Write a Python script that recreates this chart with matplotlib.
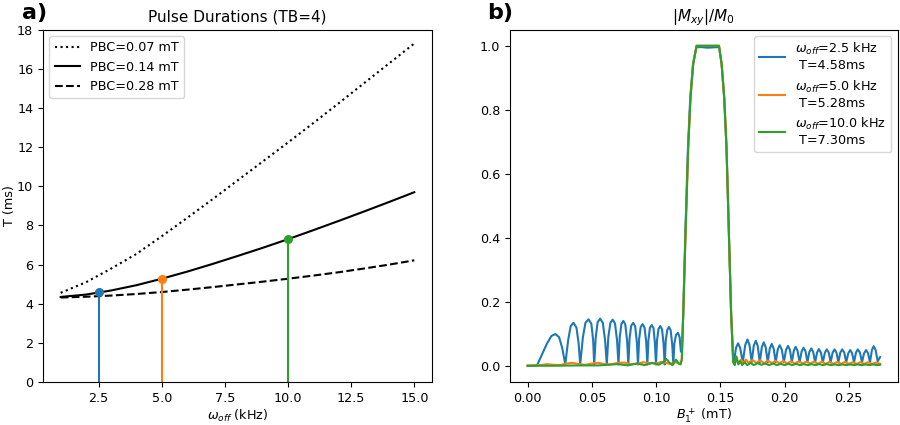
import matplotlib
matplotlib.use("Agg")
import matplotlib.pyplot as plt

# ---------------- panel a data ----------------
w_off = [1, 2, 3, 4, 5, 6, 7, 8, 9, 10, 11, 12, 13, 14, 15]
T_pbc007 = [4.56, 5.1, 5.8, 6.55, 7.45, 8.38, 9.33, 10.3, 11.27, 12.24, 13.23, 14.24, 15.26, 16.28, 17.3]
T_pbc014 = [4.35, 4.47, 4.68, 4.95, 5.28, 5.64, 6.03, 6.44, 6.86, 7.30, 7.76, 8.23, 8.71, 9.20, 9.70]
T_pbc028 = [4.32, 4.36, 4.42, 4.5, 4.6, 4.72, 4.85, 4.99, 5.13, 5.28, 5.44, 5.61, 5.8, 6.0, 6.22]
pbc_labels = ["PBC=0.07 mT", "PBC=0.14 mT", "PBC=0.28 mT"]
sel_w = [2.5, 5.0, 10.0]
sel_T = [4.58, 5.28, 7.30]

# ---------------- panel b data ----------------
b1_blue = [0.000, 0.0073,
           0.011, 0.015, 0.0185, 0.0215, 0.0245, 0.027, 0.0293,
           0.0315, 0.0335, 0.0357, 0.038, 0.0397, 0.0409,
           0.0430, 0.0450, 0.0474, 0.0496, 0.0510, 0.0518,
           0.0530, 0.0545, 0.0564, 0.0585, 0.0603, 0.0616,
           0.0628, 0.0644, 0.0662, 0.0680, 0.0696, 0.0707,
           0.0717, 0.0730, 0.0745, 0.0760, 0.0774, 0.0784,
           0.0793, 0.0806, 0.0822, 0.0837, 0.0850, 0.0859,
           0.0868, 0.0880, 0.0895, 0.0910, 0.0923, 0.0932,
           0.0940, 0.0952, 0.0966, 0.0980, 0.0991, 0.0999,
           0.1007, 0.1019, 0.1032, 0.1046, 0.1058, 0.1067,
           0.1075, 0.1087, 0.1100, 0.1113, 0.1125, 0.1134,
           0.1142, 0.1155, 0.1170, 0.1183, 0.1193,
           0.1202, 0.1211, 0.1228, 0.1248, 0.1266, 0.1287, 0.1313,
           0.135, 0.140, 0.145, 0.149,
           0.151, 0.153, 0.1548, 0.1566, 0.1584, 0.1600, 0.1607,
           0.1622, 0.1638, 0.1654, 0.1675,
           0.1694, 0.1711, 0.1727, 0.1744,
           0.1760, 0.1776, 0.1791, 0.1807,
           0.1823, 0.1838, 0.1853, 0.1869,
           0.1885, 0.1900, 0.1915, 0.1931,
           0.1947, 0.1962, 0.1978, 0.1995,
           0.2011, 0.2027, 0.2042, 0.2057,
           0.2072, 0.2086, 0.2101, 0.2117,
           0.2133, 0.2148, 0.2163, 0.2178,
           0.2193, 0.2208, 0.2223, 0.2238,
           0.2253, 0.2267, 0.2283, 0.2298,
           0.2314, 0.2329, 0.2344, 0.2359,
           0.2374, 0.2389, 0.2404, 0.2419,
           0.2434, 0.2449, 0.2465, 0.2480,
           0.2496, 0.2511, 0.2526, 0.2541,
           0.2556, 0.2570, 0.2587, 0.2603,
           0.2619, 0.2635, 0.2650, 0.2665,
           0.2680, 0.2694, 0.2709, 0.2725,
           0.2735, 0.2744]
m_blue = [0.000, 0.002,
          0.035, 0.070, 0.094, 0.100, 0.090, 0.055, 0.005,
          0.080, 0.125, 0.135, 0.120, 0.070, 0.005,
          0.090, 0.135, 0.146, 0.132, 0.080, 0.005,
          0.090, 0.137, 0.148, 0.135, 0.080, 0.005,
          0.090, 0.135, 0.145, 0.133, 0.080, 0.005,
          0.090, 0.132, 0.141, 0.130, 0.080, 0.005,
          0.085, 0.126, 0.135, 0.124, 0.075, 0.005,
          0.085, 0.122, 0.131, 0.120, 0.075, 0.005,
          0.080, 0.120, 0.128, 0.118, 0.070, 0.005,
          0.080, 0.116, 0.125, 0.115, 0.070, 0.005,
          0.080, 0.113, 0.122, 0.112, 0.070, 0.005,
          0.070, 0.097, 0.104, 0.090, 0.045,
          0.060, 0.160, 0.424, 0.683, 0.839, 0.943, 0.995,
          0.996, 0.994, 0.995, 0.996,
          0.943, 0.839, 0.683, 0.424, 0.164, 0.025, 0.015,
          0.057, 0.071, 0.057, 0.012,
          0.066, 0.083, 0.066, 0.012,
          0.063, 0.079, 0.063, 0.012,
          0.059, 0.074, 0.059, 0.012,
          0.055, 0.069, 0.055, 0.012,
          0.052, 0.065, 0.052, 0.012,
          0.050, 0.063, 0.050, 0.012,
          0.048, 0.060, 0.048, 0.012,
          0.046, 0.057, 0.046, 0.012,
          0.044, 0.055, 0.044, 0.012,
          0.042, 0.053, 0.042, 0.012,
          0.042, 0.052, 0.042, 0.012,
          0.042, 0.052, 0.042, 0.012,
          0.042, 0.052, 0.042, 0.012,
          0.040, 0.050, 0.040, 0.012,
          0.042, 0.052, 0.042, 0.012,
          0.040, 0.050, 0.040, 0.012,
          0.050, 0.062, 0.050, 0.015,
          0.022, 0.028]

b1_orange = [0.000, 0.005, 0.010, 0.015, 0.020, 0.025, 0.030, 0.035, 0.040, 0.045,
             0.050, 0.055, 0.060, 0.065, 0.070, 0.075, 0.080, 0.085, 0.090, 0.095,
             0.100, 0.104, 0.108, 0.111, 0.114, 0.117, 0.1190,
             0.1200, 0.1211, 0.1230, 0.1250, 0.1268, 0.1289, 0.1315,
             0.1400, 0.1490,
             0.1510, 0.1530, 0.1548, 0.1566, 0.1584, 0.1600, 0.1610,
             0.1625, 0.1640, 0.1660, 0.1680, 0.1700, 0.1720, 0.1750, 0.1780,
             0.1810, 0.1840, 0.1870, 0.1900, 0.1930, 0.1960, 0.1990, 0.2020,
             0.2050, 0.2080, 0.2110, 0.2140, 0.2170, 0.2200, 0.2230, 0.2260,
             0.2290, 0.2320, 0.2350, 0.2380, 0.2410, 0.2440, 0.2470, 0.2500,
             0.2530, 0.2560, 0.2590, 0.2620, 0.2650, 0.2680, 0.2710, 0.2744]
m_orange = [0.002, 0.002, 0.003, 0.006, 0.004, 0.003, 0.008, 0.010, 0.006, 0.004,
            0.008, 0.010, 0.006, 0.005, 0.010, 0.011, 0.006, 0.007, 0.012, 0.009,
            0.008, 0.013, 0.010, 0.006, 0.012, 0.010, 0.005,
            0.020, 0.160, 0.424, 0.683, 0.839, 0.943, 1.000,
            1.000, 1.000,
            0.943, 0.839, 0.683, 0.424, 0.164, 0.015, 0.005,
            0.022, 0.010, 0.020, 0.010, 0.020, 0.010, 0.019, 0.010,
            0.018, 0.009, 0.017, 0.009, 0.016, 0.009, 0.016, 0.008,
            0.015, 0.008, 0.015, 0.008, 0.014, 0.008, 0.014, 0.007,
            0.014, 0.007, 0.013, 0.007, 0.013, 0.007, 0.013, 0.007,
            0.012, 0.007, 0.012, 0.007, 0.012, 0.007, 0.011, 0.007]

b1_green = [0.000, 0.020, 0.040, 0.055, 0.062, 0.070, 0.078, 0.085, 0.091, 0.097,
            0.102, 0.1055, 0.108, 0.1105, 0.1125, 0.1155, 0.1175, 0.1190,
            0.1200, 0.1211, 0.1230, 0.1250, 0.1268, 0.1289, 0.1315,
            0.1400, 0.1490,
            0.1510, 0.1530, 0.1548, 0.1566, 0.1584, 0.1600, 0.1612,
            0.1626, 0.1640, 0.1655, 0.1670, 0.1690, 0.1710, 0.1735, 0.1760,
            0.1790, 0.1820, 0.1850, 0.1880, 0.1910, 0.1940, 0.1970, 0.2000,
            0.2030, 0.2060, 0.2090, 0.2120, 0.2150, 0.2180, 0.2210, 0.2240,
            0.2270, 0.2300, 0.2330, 0.2360, 0.2390, 0.2420, 0.2450, 0.2480,
            0.2510, 0.2540, 0.2570, 0.2600, 0.2630, 0.2660, 0.2690, 0.2720, 0.2744]
m_green = [0.001, 0.001, 0.002, 0.002, 0.004, 0.006, 0.002, 0.008, 0.003, 0.010,
           0.004, 0.012, 0.022, 0.010, 0.003, 0.020, 0.008, 0.006,
           0.020, 0.160, 0.424, 0.683, 0.839, 0.943, 1.000,
           1.000, 1.000,
           0.943, 0.839, 0.683, 0.424, 0.164, 0.012, 0.003,
           0.030, 0.005, 0.015, 0.003, 0.012, 0.003, 0.010, 0.003,
           0.009, 0.004, 0.008, 0.003, 0.008, 0.003, 0.007, 0.003,
           0.007, 0.003, 0.007, 0.003, 0.006, 0.003, 0.006, 0.003,
           0.006, 0.003, 0.006, 0.003, 0.005, 0.003, 0.005, 0.003,
           0.005, 0.003, 0.005, 0.003, 0.005, 0.003, 0.005, 0.003, 0.004]

legend_b = ["$\\omega_{off}$=2.5 kHz\n T=4.58ms",
            "$\\omega_{off}$=5.0 kHz\n T=5.28ms",
            "$\\omega_{off}$=10.0 kHz\n T=7.30ms"]
colors = ["#1f77b4", "#ff7f0e", "#2ca02c"]

plt.rcParams['font.size'] = 9.2

fig = plt.figure(figsize=(9, 4.25), dpi=100)
ax1 = fig.add_axes([0.0478, 0.101, 0.4322, 0.829])
ax2 = fig.add_axes([0.5667, 0.101, 0.4308, 0.829])

# panel a
ax1.plot(w_off, T_pbc007, 'k:', lw=1.5, label=pbc_labels[0])
ax1.plot(w_off, T_pbc014, 'k-', lw=1.5, label=pbc_labels[1])
ax1.plot(w_off, T_pbc028, 'k--', lw=1.5, label=pbc_labels[2])
for w, t, c in zip(sel_w, sel_T, colors):
    ax1.vlines(w, 0, t, color=c, lw=1.5)
    ax1.plot([w], [t], 'o', color=c, ms=5.5)
ax1.set_ylim(0, 18)
ax1.set_yticks(range(0, 19, 2))
ax1.set_xticks([2.5, 5.0, 7.5, 10.0, 12.5, 15.0])
ax1.set_xlabel("$\\omega_{off}$ (kHz)", labelpad=2)
ax1.set_ylabel("T (ms)", labelpad=1)
ax1.set_title("Pulse Durations (TB=4)", fontsize=11)
ax1.legend(loc='upper left', fontsize=9.2)

# panel b
ax2.plot(b1_blue, m_blue, color=colors[0], lw=1.5, label=legend_b[0])
ax2.plot(b1_orange, m_orange, color=colors[1], lw=1.5, label=legend_b[1])
ax2.plot(b1_green, m_green, color=colors[2], lw=1.5, label=legend_b[2])
ax2.set_xticks([0.0, 0.05, 0.10, 0.15, 0.20, 0.25])
ax2.set_xlabel("$B_1^+$ (mT)", labelpad=1)
ax2.set_title("$|M_{xy}|/M_0$", fontsize=11)
ax2.legend(loc='upper right', fontsize=9.2)

fig.text(0.024, 0.956, "a)", fontsize=16, fontweight='bold')
fig.text(0.541, 0.956, "b)", fontsize=16, fontweight='bold')

fig.savefig("out.png", dpi=100)
